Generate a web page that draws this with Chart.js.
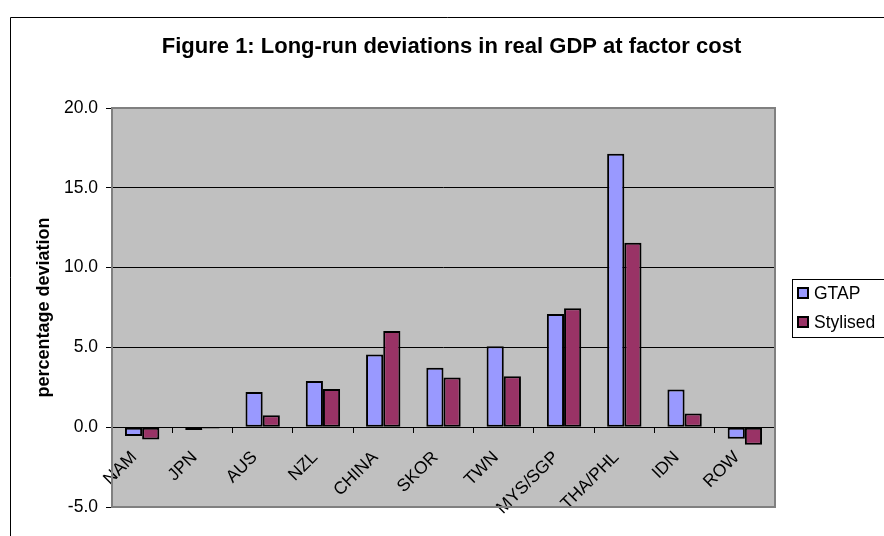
<!DOCTYPE html>
<html>
<head>
<meta charset="utf-8">
<script src="https://cdn.jsdelivr.net/npm/chart.js@4/dist/chart.umd.min.js"></script>
<style>
  html, body { margin: 0; padding: 0; background: #fff; overflow: hidden; }
  #wrap { width: 884px; height: 536px; }
</style>
</head>
<body>
<div id="wrap"><canvas id="chart" width="884" height="536"></canvas></div>
<script>
// ---- Data ----
const regions  = ['NAM', 'JPN', 'AUS', 'NZL', 'CHINA', 'SKOR', 'TWN', 'MYS/SGP', 'THA/PHL', 'IDN', 'ROW'];
const gtap     = [-0.55, -0.18, 2.20, 2.90, 4.55, 3.72, 5.07, 7.10, 17.13, 2.36, -0.72];
const stylised = [-0.77, -0.08, 0.75, 2.40, 6.02, 3.12, 3.20, 7.45, 11.55, 0.86, -1.10];
const yTicks   = [-5, 0, 5, 10, 15, 20];

const titleText = 'Figure 1: Long-run deviations in real GDP at factor cost';
const FONT = 'Arial, "Liberation Sans", sans-serif';

// ---- Excel-ish frame: outer border, grey plot area, title, boxed legend ----
const excelFrame = {
  id: 'excelFrame',
  beforeDraw(chart) {
    const { ctx, chartArea: a } = chart;
    ctx.save();
    ctx.fillStyle = '#fff';
    ctx.fillRect(0, 0, chart.width, chart.height);
    // outer chart border (right and bottom edges fall outside the picture)
    ctx.strokeStyle = '#000';
    ctx.lineWidth = 1;
    ctx.beginPath();
    ctx.moveTo(10.5, chart.height + 5);
    ctx.lineTo(10.5, 17.5);
    ctx.lineTo(chart.width + 5, 17.5);
    ctx.stroke();
    ctx.fillStyle = '#c0c0c0';
    ctx.fillRect(a.left, a.top, a.width, a.height);
    ctx.restore();
  },
  beforeDatasetsDraw(chart) {
    const { ctx, chartArea: a } = chart;
    ctx.save();
    ctx.strokeStyle = '#808080';
    ctx.lineWidth = 2;
    ctx.strokeRect(a.left, a.top, a.width, a.height);
    ctx.restore();
  },
  afterDraw(chart) {
    const { ctx } = chart;
    ctx.save();
    // title
    ctx.fillStyle = '#000';
    ctx.font = 'bold 22px ' + FONT;
    ctx.textAlign = 'center';
    ctx.textBaseline = 'alphabetic';
    ctx.fillText(titleText, 451.5, 53);
    // legend box
    ctx.fillStyle = '#fff';
    ctx.fillRect(792, 279, 120, 58);
    ctx.strokeStyle = '#000';
    ctx.lineWidth = 1;
    ctx.strokeRect(792.5, 279.5, 120, 58);
    ctx.font = '17.5px ' + FONT;
    ctx.textAlign = 'left';
    ctx.textBaseline = 'middle';
    chart.data.datasets.forEach((ds, i) => {
      const cy = 293 + i * 29;
      ctx.fillStyle = ds.backgroundColor;
      ctx.fillRect(797, cy - 6, 12, 12);
      ctx.lineWidth = 2;
      ctx.strokeStyle = '#000';
      ctx.strokeRect(798, cy - 5, 10, 10);
      ctx.fillStyle = '#000';
      ctx.fillText(ds.label, 814, cy + 1);
    });
    ctx.restore();
  }
};

new Chart(document.getElementById('chart'), {
  type: 'bar',
  data: {
    labels: regions,
    datasets: [
      { label: 'GTAP', data: gtap, backgroundColor: '#9999ff' },
      { label: 'Stylised', data: stylised, backgroundColor: '#993366' }
    ]
  },
  options: {
    responsive: false,
    animation: false,
    devicePixelRatio: 1,
    layout: { padding: { top: 108, right: 109, bottom: 29, left: 0 } },
    datasets: {
      bar: { borderColor: '#000', borderWidth: 2, borderSkipped: false, categoryPercentage: 0.57, barPercentage: 1 }
    },
    plugins: { legend: { display: false }, title: { display: false }, tooltip: { enabled: false } },
    scales: {
      x: {
        position: { y: 0 },
        grid: { offset: true, drawOnChartArea: false, drawTicks: true, tickLength: 5, tickColor: '#000' },
        border: { display: true, color: '#000', width: 1 },
        ticks: {
          autoSkip: false, minRotation: 45, maxRotation: 45, padding: 15, labelOffset: -8,
          color: '#000', font: { family: FONT, size: 17.5 }
        }
      },
      y: {
        min: yTicks[0],
        max: yTicks[yTicks.length - 1],
        afterFit(scale) { scale.width = 112; },
        afterBuildTicks(scale) { scale.ticks = yTicks.map(v => ({ value: v })); },
        grid: {
          color: c => (c.tick && (c.tick.value === yTicks[0] || c.tick.value === yTicks[yTicks.length - 1])) ? 'rgba(0,0,0,0)' : '#000',
          tickColor: '#000',
          tickLength: 6
        },
        border: { display: false },
        ticks: {
          padding: 8, color: '#000', font: { family: FONT, size: 17.5 },
          callback: v => Number(v).toFixed(1)
        },
        title: {
          display: true, text: 'percentage deviation', color: '#000',
          font: { family: FONT, size: 18, weight: 'bold' },
          padding: { top: 33, bottom: 0 }
        }
      }
    }
  },
  plugins: [excelFrame]
});
</script>
</body>
</html>
